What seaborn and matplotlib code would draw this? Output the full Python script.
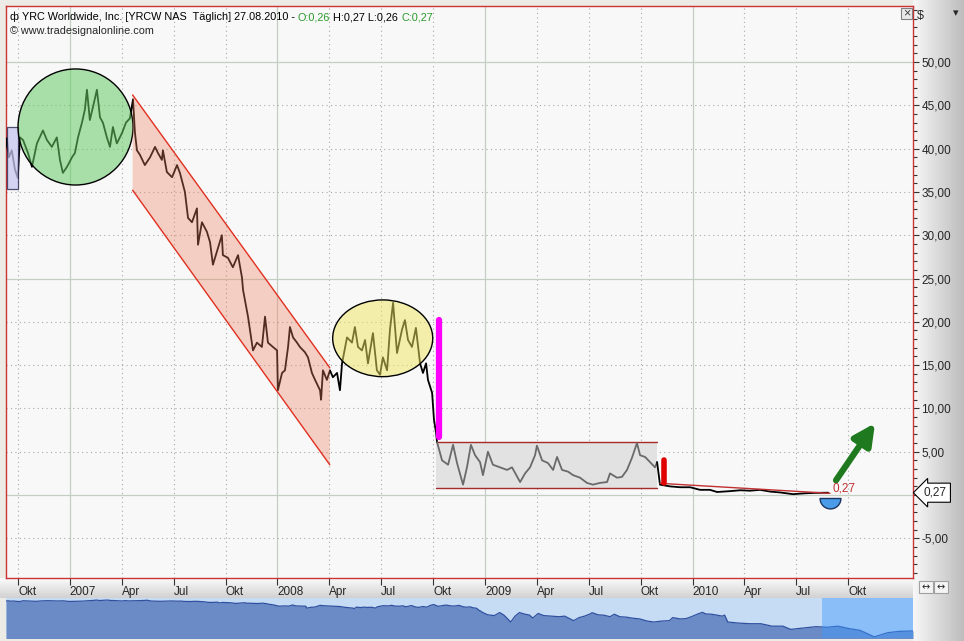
import numpy as np
import pandas as pd
import matplotlib
matplotlib.use('Agg')
import matplotlib.pyplot as plt
import seaborn as sns
from matplotlib.patches import Ellipse, Polygon, Rectangle
from matplotlib.path import Path
from matplotlib.colors import LinearSegmentedColormap
import matplotlib.transforms as mtransforms

sns.set_theme(style='white')
plt.rcParams['font.family'] = ['Liberation Sans', 'DejaVu Sans']

# --- Kursdaten YRCW (Zeit in Dezimaljahren, Kurs in $) ---
t_kurs = [
    2006.687, 2006.696, 2006.706, 2006.720, 2006.735, 2006.749, 2006.759, 2006.774, 2006.798, 2006.817,
    2006.841, 2006.870, 2006.889, 2006.913, 2006.937, 2006.952, 2006.966, 2006.986, 2007.010, 2007.024,
    2007.039, 2007.058, 2007.072, 2007.082, 2007.096, 2007.111, 2007.130, 2007.145, 2007.159, 2007.178,
    2007.193, 2007.207, 2007.226, 2007.251, 2007.270, 2007.289, 2007.304,
    2007.313, 2007.323, 2007.337, 2007.361, 2007.386, 2007.410, 2007.424, 2007.443, 2007.448, 2007.467,
    2007.492, 2007.516, 2007.530, 2007.554, 2007.569, 2007.588, 2007.612, 2007.617, 2007.636, 2007.660,
    2007.675, 2007.689, 2007.708, 2007.732, 2007.737, 2007.761, 2007.785, 2007.810, 2007.829, 2007.834,
    2007.858, 2007.882, 2007.901, 2007.925, 2007.940, 2007.954, 2007.978, 2007.998, 2008.002, 2008.022,
    2008.036, 2008.051, 2008.060, 2008.075, 2008.094, 2008.108, 2008.132, 2008.147, 2008.166, 2008.181,
    2008.205, 2008.210, 2008.219, 2008.238, 2008.253, 2008.267, 2008.287, 2008.301,
    2008.311, 2008.335, 2008.359, 2008.373, 2008.388, 2008.407, 2008.422, 2008.436, 2008.460, 2008.479,
    2008.494, 2008.508, 2008.528, 2008.542, 2008.557, 2008.576, 2008.600, 2008.614, 2008.629, 2008.648,
    2008.667, 2008.687, 2008.701, 2008.716, 2008.725, 2008.745, 2008.754, 2008.764, 2008.769,
    2008.793, 2008.822, 2008.846, 2008.865, 2008.894, 2008.913, 2008.932, 2008.952, 2008.976, 2008.990,
    2009.014, 2009.038, 2009.072, 2009.106, 2009.130, 2009.169, 2009.193, 2009.217, 2009.241, 2009.250,
    2009.275, 2009.303, 2009.328, 2009.347, 2009.371, 2009.400, 2009.424, 2009.458, 2009.491, 2009.520,
    2009.554, 2009.588, 2009.602, 2009.636, 2009.660, 2009.684, 2009.708, 2009.732, 2009.747, 2009.771,
    2009.795, 2009.819, 2009.829,
    2009.843, 2009.891, 2009.940, 2009.988, 2010.036, 2010.084, 2010.118, 2010.181, 2010.229, 2010.277,
    2010.325, 2010.373, 2010.421, 2010.484, 2010.542, 2010.590, 2010.653,
]
kurs = [
    39.5, 41.2, 39.0, 39.8, 37.6, 36.6, 41.3, 41.0, 39.5, 37.9,
    40.6, 42.1, 41.0, 40.2, 41.3, 38.7, 37.2, 37.9, 39.0, 39.5,
    41.3, 43.0, 44.5, 46.8, 43.3, 44.8, 46.8, 43.6, 43.0, 41.3,
    40.2, 42.5, 40.6, 41.8, 43.0, 43.5, 45.7,
    41.9, 39.8, 39.3, 38.1, 39.0, 40.2, 39.5, 38.7, 39.8, 37.3,
    36.7, 38.1, 37.2, 35.0, 32.0, 31.5, 33.1, 28.9, 31.5, 30.4,
    29.2, 26.6, 28.1, 30.0, 27.7, 27.4, 26.3, 27.7, 25.1, 23.7,
    20.6, 16.7, 17.6, 17.1, 20.6, 17.6, 17.1, 16.7, 12.1, 14.1,
    14.4, 17.1, 19.4, 18.2, 17.6, 17.1, 16.5, 15.9, 14.1, 13.3,
    12.1, 11.0, 14.4, 13.3, 14.4, 13.6, 14.1, 12.1,
    15.2, 18.2, 17.6, 19.4, 17.1, 16.7, 17.9, 15.2, 18.7, 14.4,
    13.9, 15.9, 14.4, 19.1, 22.2, 16.4, 19.1, 20.2, 17.9, 17.1,
    19.3, 15.2, 14.1, 15.2, 13.3, 11.8, 8.7, 7.2, 6.1,
    4.0, 3.5, 5.8, 3.7, 1.2, 3.2, 5.8, 4.6, 3.8, 2.3,
    5.0, 3.5, 3.2, 2.9, 3.2, 1.5, 2.5, 3.2, 4.6, 5.7,
    4.0, 3.7, 2.9, 4.4, 2.9, 2.7, 2.3, 2.0, 1.4, 1.2,
    1.4, 1.5, 2.5, 2.0, 2.1, 2.9, 4.3, 6.0, 4.6, 4.4,
    3.8, 3.2, 3.8,
    1.2, 1.0, 0.9, 0.9, 0.6, 0.6, 0.35, 0.45, 0.55, 0.5,
    0.6, 0.4, 0.3, 0.1, 0.2, 0.25, 0.27,
]

# Achsenbeschriftung
tick_pos = [2006.75, 2007.0, 2007.25, 2007.5, 2007.75, 2008.0, 2008.25, 2008.5, 2008.75,
            2009.0, 2009.25, 2009.5, 2009.75, 2010.0, 2010.25, 2010.5, 2010.75]
tick_lbl = ['Okt', '2007', 'Apr', 'Jul', 'Okt', '2008', 'Apr', 'Jul', 'Okt',
            '2009', 'Apr', 'Jul', 'Okt', '2010', 'Apr', 'Jul', 'Okt']
y_ticks = [-5, 5, 10, 15, 20, 25, 30, 35, 40, 45, 50]

# Zeichnungen im Chart (Zeit, Kurs)
vorbox_t, vorbox_p = [2006.696, 2006.749], [35.3, 42.5]
kreis_gruen = (2007.027, 42.5, 0.554, 13.4)      # Mitte t, Mitte Kurs, Breite, Höhe
kreis_gelb = (2008.507, 18.1, 0.482, 8.86)
kanal_t = [2007.302, 2008.252]
kanal_oben = [46.2, 14.7]
kanal_unten = [35.2, 3.5]
range_t, range_p = [2008.764, 2009.829], [0.77, 6.1]
balken_magenta = (2008.778, 6.7, 20.2)
balken_rot = (2009.860, 1.4, 4.1)
trend_t, trend_p = [2009.843, 2010.662], [1.35, 0.2]
halbkreis = (2010.662, -0.35)
pfeil_von, pfeil_nach = (2010.691, 1.7), (2010.879, 8.3)
letzter_kurs = 0.27

df = pd.DataFrame({'t': t_kurs, 'kurs': kurs})
schwarz1 = df[df['t'] <= range_t[0] + 0.005]
grau = df[(df['t'] >= range_t[0] + 0.005) & (df['t'] <= range_t[1])]
schwarz2 = df[df['t'] >= range_t[1]]

W, H = 964, 641


def fr(x0, y0, x1, y1):
    return [x0 / W, 1 - y1 / H, (x1 - x0) / W, (y1 - y0) / H]


fig = plt.figure(figsize=(9.64, 6.41), dpi=100, facecolor='#ecebe6')

# Hintergrund mit Verläufen (Achsenbereiche)
bg = fig.add_axes([0, 0, 1, 1], zorder=-5)
bg.imshow(np.linspace(0, 1, 64).reshape(1, -1), extent=(913, 964, 641, 0), aspect='auto',
          cmap=LinearSegmentedColormap.from_list('r', ['#f7f7f7', '#bdbdbd']))
bg.imshow(np.linspace(0, 1, 32).reshape(-1, 1), extent=(0, 913, 598, 578), aspect='auto',
          cmap=LinearSegmentedColormap.from_list('b', ['#fbfbfb', '#d2d2d2']))
bg.set_xlim(0, W)
bg.set_ylim(H, 0)
bg.axis('off')

ax = fig.add_axes(fr(6, 6, 913, 578))
ax.set_facecolor('#f8f8f8')

# Gitter
for x, lbl in zip(tick_pos, tick_lbl):
    if lbl.isdigit():
        ax.axvline(x, color='#c2cfc2', lw=0.9, zorder=0)
    else:
        ax.axvline(x, color='#a8a8a8', lw=0.8, ls=(0, (1, 3)), zorder=0)
for y in range(-5, 55, 5):
    if y % 25 == 0:
        ax.axhline(y, color='#c2cfc2', lw=0.9, zorder=0)
    else:
        ax.axhline(y, color='#a8a8a8', lw=0.8, ls=(0, (1, 3)), zorder=0)

# Range-Box unter dem Kurs
ax.add_patch(Rectangle((range_t[0], range_p[0]), range_t[1] - range_t[0], range_p[1] - range_p[0],
                       fc='#e2e2e2', ec='none', zorder=1))
for p in range_p:
    ax.plot(range_t, [p, p], color='#a52a2a', lw=1.0, zorder=2)

# Kurslinie
sns.lineplot(data=schwarz1, x='t', y='kurs', ax=ax, color='black', lw=1.3, estimator=None, sort=False, zorder=3)
sns.lineplot(data=grau, x='t', y='kurs', ax=ax, color='#6a6a6a', lw=1.3, estimator=None, sort=False, zorder=3)
sns.lineplot(data=schwarz2, x='t', y='kurs', ax=ax, color='black', lw=1.3, estimator=None, sort=False, zorder=3)

# Vorbox
ax.add_patch(Rectangle((vorbox_t[0], vorbox_p[0]), vorbox_t[1] - vorbox_t[0], vorbox_p[1] - vorbox_p[0],
                       fc='#c8c8f0', ec='#1a1a40', lw=0.9, alpha=0.75, zorder=4))

# Kreise
ax.add_patch(Ellipse(kreis_gruen[:2], kreis_gruen[2], kreis_gruen[3], fc='#66cc66', alpha=0.55, ec='none', zorder=4))
ax.add_patch(Ellipse(kreis_gruen[:2], kreis_gruen[2], kreis_gruen[3], fc='none', ec='black', lw=1, zorder=4))
ax.add_patch(Ellipse(kreis_gelb[:2], kreis_gelb[2], kreis_gelb[3], fc='#f0e860', alpha=0.5, ec='none', zorder=4))
ax.add_patch(Ellipse(kreis_gelb[:2], kreis_gelb[2], kreis_gelb[3], fc='none', ec='black', lw=1, zorder=4))

# Abwärtskanal
kanal = [(kanal_t[0], kanal_oben[0]), (kanal_t[1], kanal_oben[1]),
         (kanal_t[1], kanal_unten[1]), (kanal_t[0], kanal_unten[0])]
ax.add_patch(Polygon(kanal, closed=True, fc='#f08060', alpha=0.35, ec='none', zorder=4))
ax.plot(kanal_t, kanal_oben, color='#e03020', lw=1, zorder=4)
ax.plot(kanal_t, kanal_unten, color='#e03020', lw=1, zorder=4)

# Balken
ax.plot([balken_magenta[0]] * 2, balken_magenta[1:], color='#ff00ff', lw=4.5,
        solid_capstyle='round', zorder=5)
ax.plot([balken_rot[0]] * 2, balken_rot[1:], color='#e00000', lw=4,
        solid_capstyle='round', zorder=5)

# Trendlinie, Halbkreis, Pfeil
ax.plot(trend_t, trend_p, color='#c03030', lw=1, zorder=4)
ax.plot([halbkreis[0]], [halbkreis[1]], marker=Path.wedge(180, 360), ms=15,
        mfc='#4a9be8', mec='#1c3560', mew=1, zorder=5)
ax.annotate('', xy=pfeil_nach, xytext=pfeil_von,
            arrowprops=dict(arrowstyle='-|>', color='#1f7a1f', lw=4.5, mutation_scale=32,
                            shrinkA=0, shrinkB=0), zorder=6)
ax.text(trend_t[1] + 0.01, 0.8, f'{letzter_kurs:.2f}'.replace('.', ','), color='#c03030',
        fontsize=8.5, va='center', ha='left', zorder=6)

# Achsen
ax.set_xlim(2006.692, 2011.062)
ax.set_ylim(-9.58, 56.47)
ax.set_xlabel('')
ax.set_ylabel('')
ax.set_xticks(tick_pos)
ax.set_xticklabels(tick_lbl)
for lbl in ax.get_xticklabels():
    lbl.set_ha('left')
ax.tick_params(axis='x', bottom=True, direction='out', length=5, width=0.8, color='#333333',
               labelsize=8.5, pad=1)
ax.yaxis.tick_right()
ax.set_yticks(y_ticks)
ax.set_yticklabels([f'{v:.2f}'.replace('.', ',') for v in y_ticks])
ax.set_yticks(np.arange(-9, 57, 1), minor=True)
ax.tick_params(axis='y', which='major', right=True, direction='out', length=4, width=0.8,
               color='#333333', labelsize=8.5, pad=2)
ax.tick_params(axis='y', which='minor', right=True, direction='out', length=3, width=0.8, color='#333333')
for s in ax.spines.values():
    s.set_color('#cc3333')
    s.set_linewidth(1)

# Kursmarke rechts
trans = mtransforms.blended_transform_factory(ax.transAxes, ax.transData)
ax.text(1.012, letzter_kurs, f'{letzter_kurs:.2f}'.replace('.', ','), transform=trans, fontsize=8.5,
        va='center', ha='left', clip_on=False, zorder=10,
        bbox=dict(boxstyle='larrow,pad=0.3', fc='white', ec='black', lw=0.8))

# Kopfzeile
renderer = fig.canvas.get_renderer()
teile = [('ф ', 'black'), ('YRC Worldwide, Inc. [YRCW NAS  Täglich] 27.08.2010 - ', 'black'),
         ('O:0,26', '#2a9a2a'), (' H:0,27 L:0,26 ', 'black'), ('C:0,27', '#2a9a2a')]
x = 10 / W
for txt, col in teile:
    t = fig.text(x, 1 - 17 / H, txt, color=col, fontsize=7.8, va='center', ha='left')
    bb = t.get_window_extent(renderer=renderer)
    x = bb.x1 / W
fig.text(10 / W, 1 - 31 / H, '© www.tradesignalonline.com', fontsize=7.8, va='center', ha='left')
fig.text(917 / W, 1 - 16 / H, '$', fontsize=9, va='center', ha='left')
fig.text(953 / W, 1 - 13 / H, '▾', fontsize=8, va='center', ha='left')
fig.add_artist(Rectangle((901 / W, 1 - 19 / H), 11 / W, 11 / H, transform=fig.transFigure,
                         fc='#e8e8e8', ec='#808080', lw=0.8))
fig.text(906.5 / W, 1 - 13.5 / H, '×', fontsize=9, va='center', ha='center', color='#404040')
for xb in (919, 934):
    fig.add_artist(Rectangle((xb / W, 1 - 593 / H), 14 / W, 12 / H, transform=fig.transFigure,
                             fc='#f4f4f4', ec='#a0a0a0', lw=0.8))
    fig.text((xb + 7) / W, 1 - 587 / H, '↔', fontsize=7, va='center', ha='center', family='DejaVu Sans')

# Navigator unten (log. Kurs)
nav = fig.add_axes(fr(6, 598, 913, 638))
nav.set_facecolor('#c6dcf4')
nav.fill_between(t_kurs, kurs, 0.01, color='#6a8bc6', lw=0)
nav.plot(t_kurs, kurs, color='#2f4f9f', lw=0.9)
nav.set_yscale('log')
nav.set_xlim(t_kurs[0], t_kurs[-1])
nav.set_ylim(0.083, 66)
nav.add_patch(Rectangle((0.9, 0), 0.1, 1, transform=nav.transAxes, fc='#3f9bff', alpha=0.45,
                        lw=0, zorder=5))
nav.set_xticks([])
nav.set_yticks([])
nav.minorticks_off()
for s in nav.spines.values():
    s.set_visible(False)

fig.savefig('out.png', dpi=100, facecolor=fig.get_facecolor())
